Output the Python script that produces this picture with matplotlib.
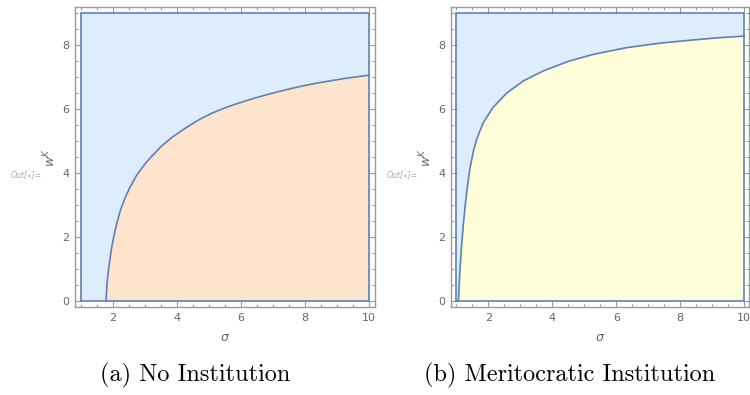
import numpy as np
import matplotlib.pyplot as plt
from matplotlib.ticker import MultipleLocator

# region bounds (sigma in [1, 10], w^K in [0, 9])
sigma_lo, sigma_hi = 1.0, 10.0
w_lo, w_hi = 0.0, 9.0

# (a) no institution boundary
sigma_a = [1.78, 1.81, 1.85, 1.90, 1.96, 2.03, 2.12, 2.23, 2.38, 2.53, 2.74, 3.0,
           3.21, 3.5, 3.83, 4.25, 4.67, 5.08, 5.5, 5.87, 6.38, 6.91, 7.43, 7.95,
           8.47, 9.25, 10.0]
w_a = [0.0, 0.55, 0.92, 1.30, 1.70, 2.05, 2.45, 2.84, 3.24, 3.56, 3.94, 4.29,
       4.53, 4.83, 5.11, 5.40, 5.66, 5.87, 6.04, 6.17, 6.33, 6.48, 6.61, 6.73,
       6.83, 6.96, 7.06]

# (b) meritocratic institution boundary
sigma_b = [1.06, 1.11, 1.16, 1.21, 1.27, 1.34, 1.42, 1.53, 1.63, 1.84, 2.15, 2.57,
           3.09, 3.71, 4.49, 5.28, 6.32, 7.36, 8.40, 9.2, 10.0]
w_b = [0.0, 0.95, 1.70, 2.32, 2.95, 3.56, 4.13, 4.68, 5.05, 5.58, 6.06, 6.50,
       6.88, 7.19, 7.49, 7.71, 7.92, 8.06, 8.16, 8.23, 8.28]

captions = ["(a) No Institution", "(b) Meritocratic Institution"]

line_c = "#5e81b5"
upper_c = "#ddedfd"
lower_cs = ["#fee4cc", "#fefedb"]
frame_c = "#9a9a9a"
text_c = "#666666"

fig = plt.figure(figsize=(7.5, 3.95), dpi=100)
axes = [fig.add_axes([0.1, 0.2228, 0.4, 0.7595]),
        fig.add_axes([0.6013, 0.2228, 0.3974, 0.7595])]
xlims = [(0.81, 10.19), (0.83, 10.15)]

for ax, xs, ws, lower_c, xl in zip(axes, [sigma_a, sigma_b], [w_a, w_b], lower_cs, xlims):
    # whole rectangle in blue, then lower region
    ax.fill_between([sigma_lo, sigma_hi], w_lo, w_hi, color=upper_c, lw=0)
    ax.fill_between(xs, w_lo, ws, color=lower_c, lw=0)
    ax.plot([sigma_lo, sigma_hi, sigma_hi, sigma_lo, sigma_lo],
            [w_lo, w_lo, w_hi, w_hi, w_lo], color=line_c, lw=1.2, solid_joinstyle="miter")
    ax.plot(xs, ws, color=line_c, lw=1.2, solid_joinstyle="round")

    ax.set_xlim(*xl)
    ax.set_ylim(-0.18, 9.19)
    ax.xaxis.set_major_locator(MultipleLocator(2))
    ax.xaxis.set_minor_locator(MultipleLocator(0.5))
    ax.yaxis.set_major_locator(MultipleLocator(2))
    ax.yaxis.set_minor_locator(MultipleLocator(0.5))
    ax.tick_params(which="both", direction="in", top=True, right=True,
                   color=frame_c, labelcolor=text_c, labelsize=8, width=0.8)
    ax.tick_params(which="major", length=4, pad=4)
    ax.tick_params(which="minor", length=2)
    for s in ax.spines.values():
        s.set_color(frame_c)
        s.set_linewidth(1.0)

    ax.set_xlabel(r"$\sigma$", color=text_c, fontsize=9, labelpad=6)
    ax.set_ylabel(r"$w^K$", color=text_c, fontsize=9, labelpad=3)

fig.text(0.0147, 0.557, "Out[\u2219]=", color="#aaaaaa", fontsize=5.5, style="italic", va="center")
fig.text(0.516, 0.557, "Out[\u2219]=", color="#aaaaaa", fontsize=5.5, style="italic", va="center")

fig.text(0.26, 0.05, captions[0], family="cmr10", fontsize=17.5, ha="center", va="center")
fig.text(0.76, 0.05, captions[1], family="cmr10", fontsize=17.5, ha="center", va="center")

fig.savefig("out.png", dpi=100)
